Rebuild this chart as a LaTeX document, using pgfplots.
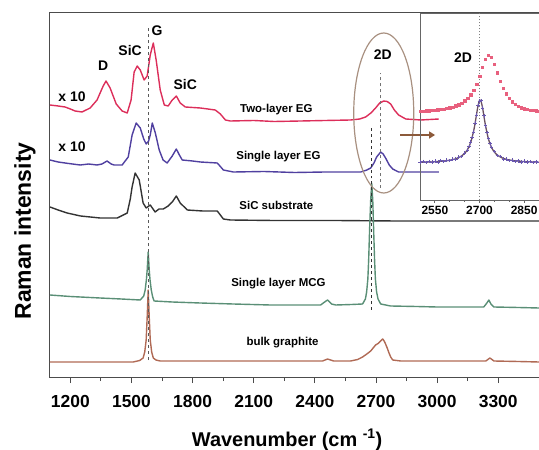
\documentclass[border=0pt]{standalone}
\usepackage{fontspec}
\setmainfont{Liberation Sans}
\usepackage{pgfplots}
\pgfplotsset{compat=1.18}
\usetikzlibrary{arrows.meta}
\definecolor{cRed}{HTML}{DC2E5A}
\definecolor{cRedI}{HTML}{E8607E}
\definecolor{cPur}{HTML}{5040A0}
\definecolor{cPurI}{HTML}{6A58B0}
\definecolor{cFit}{HTML}{6A5060}
\definecolor{cBlk}{HTML}{333333}
\definecolor{cGrn}{HTML}{5A8F76}
\definecolor{cBrn}{HTML}{B06A55}
\definecolor{cEll}{HTML}{A89080}
\definecolor{cArr}{HTML}{8C5A3A}
\begin{document}
\begin{tikzpicture}
\useasboundingbox (-50bp,-73bp) rectangle (489bp,377bp);
\begin{axis}[
  at={(0,0)}, anchor=south west,
  scale only axis, width=489bp, height=364bp,
  xmin=1100, xmax=3500, ymin=0, ymax=364,
  xtick={1200,1500,...,3300}, minor x tick num=1,
  ytick=\empty,
  tick pos=left, tick align=outside,
  major tick length=6bp, minor tick length=4bp,
  axis line style={draw=black!70, line width=1bp},
  every tick/.style={black!70, line width=1bp},
  /pgf/number format/assume math mode=true,
  /pgf/number format/1000 sep={},
  xticklabel style={font=\fontsize{17.5}{18}\selectfont\bfseries, yshift=-9bp},
  xlabel={Wavenumber (cm \textsuperscript{-1})},
  ylabel={Raman intensity},
  xlabel style={font=\fontsize{20}{22}\selectfont\bfseries, at={(rel axis cs:0.485,-0.173)}, anchor=center},
  ylabel style={font=\fontsize{23}{25}\selectfont\bfseries, at={(rel axis cs:-0.051,0.401)}, anchor=center},
  every axis plot/.append style={line join=round},
]
% Two-layer EG (x10)
\addplot[cRed, line width=1.4bp] coordinates {
(1100,272)(1140,271)(1174,270)(1200,268)(1223,266)(1257,265)(1297,269)(1331,277)(1361,291)(1375,296)(1395,289)(1425,273)(1454,266)(1479,264)(1498,277)(1513,305)(1528,311)(1543,307)(1562,297)(1577,301)(1592,322)(1607,334)(1621,317)(1641,287)(1661,272)(1680,271)(1700,277)(1720,281)(1739,274)(1764,270)(1838,269)(1911,267)(1936,263)(1961,257)(1985,256)(2100,256.5)(2200,255.5)(2330,256)(2450,256.5)(2575,257)(2620,258)(2649,260)(2675,264)(2698,269)(2718,274)(2738,276)(2755,275.5)(2772,273)(2790,267)(2811,262)(2846,258)(2920,257)(3008,258)};
% Single layer EG (x10)
\addplot[cPur, line width=1.4bp] coordinates {
(1100,217)(1140,215)(1174,214)(1210,213)(1248,212)(1290,213)(1331,212)(1355,213)(1380,216)(1400,213)(1415,212)(1454,212)(1484,220)(1503,242)(1523,254)(1543,249)(1560,238)(1572,233)(1584,236)(1592,242)(1602,254)(1617,244)(1636,227)(1655,217)(1675,214)(1700,221)(1720,228)(1735,222)(1749,217)(1800,216)(1838,215)(1921,214)(1951,207)(2000,205)(2150,205.5)(2300,204.5)(2450,205)(2625,205)(2655,207)(2674,209)(2690,214)(2703,220)(2723,225)(2735,223)(2747,219)(2765,212)(2782,208)(2811,205)(2900,205)(3008,205)};
% SiC substrate
\addplot[cBlk, line width=1.4bp] coordinates {
(1100,170)(1140,167)(1184,164)(1250,161)(1346,159)(1430,159)(1479,164)(1494,178)(1503,190)(1518,204)(1538,197)(1557,174)(1572,169)(1592,172)(1616,165)(1635,168)(1656,168)(1680,171)(1700,175)(1720,181)(1739,174)(1774,167)(1850,166)(1921,166)(1951,158)(1985,157)(2200,156.5)(2500,156.5)(2800,156)(3100,156)(3500,156)};
% Single layer MCG
\addplot[cGrn, line width=1.4bp] coordinates {
(1100,82)(1200,80.5)(1346,79)(1450,78)(1543,77)(1560,81)(1567,87)(1573,97)(1577,107)(1580,118)(1582,125)(1584,118)(1587,107)(1591,97)(1597,87)(1604,80)(1611,76)(1700,75)(1838,74)(2000,73)(2182,72)(2300,72)(2428,72)(2448,75)(2462,77)(2482,73)(2502,72)(2580,72.5)(2634,73)(2648,78)(2654,85)(2660,98)(2664,117)(2669,150)(2674,177)(2679,194)(2684,177)(2688,150)(2693,117)(2697,98)(2703,85)(2710,78)(2723,73)(2772,71)(2900,70.5)(3000,70)(3229,70)(3244,74)(3254,77)(3264,73)(3279,70)(3400,69.5)(3500,69)};
% bulk graphite
\addplot[cBrn, line width=1.4bp] coordinates {
(1100,15)(1300,15)(1508,15)(1540,16.5)(1557,19)(1565,25)(1572,37)(1577,60)(1582,87)(1587,60)(1592,37)(1599,25)(1607,19)(1620,17)(1641,16)(1900,16)(2330,16)(2438,16)(2462,18)(2492,16)(2575,16)(2610,17.5)(2634,20)(2655,23)(2674,26)(2690,30)(2698,32)(2710,33.5)(2718,35)(2733,38)(2740,36)(2747,33)(2755,29)(2762,25)(2772,20)(2782,17)(2821,16)(3000,16)(3239,16)(3259,19)(3279,16)(3400,15.5)(3500,15)};
% guide lines and annotations
\draw[black!65, dashed, line width=1bp] (axis cs:1582,17) -- (axis cs:1582,349);
\draw[black!80, dashed, line width=1bp] (axis cs:2679,67) -- (axis cs:2679,252);
\draw[black!55, dashed, line width=1bp] (axis cs:2723,189) -- (axis cs:2723,304);
\draw[cEll, line width=1.2bp] (axis cs:2738,264) ellipse [x radius=30bp, y radius=80bp];
\draw[cArr, line width=2.5bp, -{Triangle[length=6bp,width=7bp]}] (axis cs:2820,242) -- (axis cs:2990,242);
\node[font=\fontsize{14}{16}\selectfont\bfseries] at (axis cs:1208,280) {x 10};
\node[font=\fontsize{14}{16}\selectfont\bfseries] at (axis cs:1208,230) {x 10};
\node[font=\fontsize{14}{16}\selectfont\bfseries] at (axis cs:1361,311) {D};
\node[font=\fontsize{14}{16}\selectfont\bfseries] at (axis cs:1493,326) {SiC};
\node[font=\fontsize{14}{16}\selectfont\bfseries] at (axis cs:1626,346) {G};
\node[font=\fontsize{14}{16}\selectfont\bfseries] at (axis cs:1764,292) {SiC};
\node[font=\fontsize{14}{16}\selectfont\bfseries] at (axis cs:2733,322) {2D};
\node[font=\fontsize{11.5}{13}\selectfont\bfseries] at (axis cs:2211,267) {Two-layer EG};
\node[font=\fontsize{11.5}{13}\selectfont\bfseries] at (axis cs:2221,220) {Single layer EG};
\node[font=\fontsize{11.5}{13}\selectfont\bfseries] at (axis cs:2211,172) {SiC substrate};
\node[font=\fontsize{11.5}{13}\selectfont\bfseries] at (axis cs:2221,93) {Single layer MCG};
\node[font=\fontsize{11.5}{13}\selectfont\bfseries] at (axis cs:2241,34) {bulk graphite};
\end{axis}
\begin{axis}[
  at={(370bp,177bp)}, anchor=south west,
  scale only axis, width=119bp, height=187bp,
  xmin=2500, xmax=2900, ymin=177, ymax=364,
  xtick={2550,2700,2850}, minor x tick num=2,
  ytick=\empty,
  tick pos=left, tick align=outside,
  major tick length=3bp, minor tick length=2bp,
  axis line style={draw=black!60, line width=0.8bp},
  every tick/.style={black!60, line width=0.8bp},
  /pgf/number format/assume math mode=true,
  /pgf/number format/1000 sep={},
  xticklabel style={font=\fontsize{12}{13}\selectfont\bfseries},
]
\draw[black!50, dotted, line width=1bp] (axis cs:2700,177) -- (axis cs:2700,364);
\addplot[only marks, mark=square*, mark size=1.2bp, cRedI, mark options={draw=none}] coordinates {
(2500,265.8)(2510,266.0)(2520,266.2)(2530,266.4)(2540,266.6)(2550,266.9)(2560,267.2)(2570,267.5)(2580,268.0)(2590,268.6)(2600,269.2)(2610,270.0)(2620,271.1)(2630,272.3)(2640,274.0)(2650,276.1)(2660,278.7)(2670,282.2)(2680,286.9)(2690,293.0)(2700,300.7)(2710,309.5)(2720,317.6)(2730,321.9)(2740,320.0)(2750,313.0)(2760,304.2)(2770,295.9)(2780,288.8)(2790,283.2)(2800,278.8)(2810,275.4)(2820,272.8)(2830,270.8)(2840,269.4)(2850,268.3)(2860,267.5)(2870,266.9)(2880,266.5)(2890,266.2)(2900,266.0)};
\addplot[only marks, mark=+, mark size=1.8bp, cPurI, line width=0.7bp] coordinates {
(2500,214.7)(2510,215.5)(2520,214.4)(2530,215.6)(2540,214.8)(2550,215.9)(2560,215.0)(2570,216.3)(2580,215.6)(2590,216.9)(2600,216.4)(2610,217.8)(2620,217.7)(2630,219.9)(2640,220.5)(2650,224.1)(2660,227.1)(2665,230.5)(2670,234.7)(2675,239.5)(2680,245.0)(2685,253.9)(2690,262.0)(2695,271.7)(2700,276.0)(2705,276.3)(2710,269.1)(2715,261.2)(2720,251.2)(2725,244.5)(2730,238.5)(2735,233.2)(2740,229.3)(2750,225.4)(2760,221.4)(2770,220.5)(2780,218.1)(2790,217.9)(2800,216.5)(2810,216.9)(2820,215.6)(2830,216.2)(2840,215.1)(2850,215.8)(2860,214.7)(2870,215.4)(2880,214.5)(2890,215.2)(2900,214.3)};
\addplot[cFit, line width=1.3bp, smooth] coordinates {
(2500,214.7)(2540,215.1)(2580,216.0)(2600,216.8)(2620,218.2)(2640,221.0)(2650,223.6)(2660,227.6)(2670,234.2)(2680,245.5)(2685,253.4)(2690,262.5)(2695,271.2)(2700,276.5)(2705,275.8)(2710,269.6)(2715,260.7)(2720,251.7)(2730,238.0)(2740,229.8)(2750,224.9)(2760,221.9)(2770,220.0)(2780,218.6)(2800,217.0)(2840,215.6)(2900,214.8)};
\node[font=\fontsize{14}{16}\selectfont\bfseries] at (axis cs:2645,319) {2D};
\end{axis}
\end{tikzpicture}
\end{document}
